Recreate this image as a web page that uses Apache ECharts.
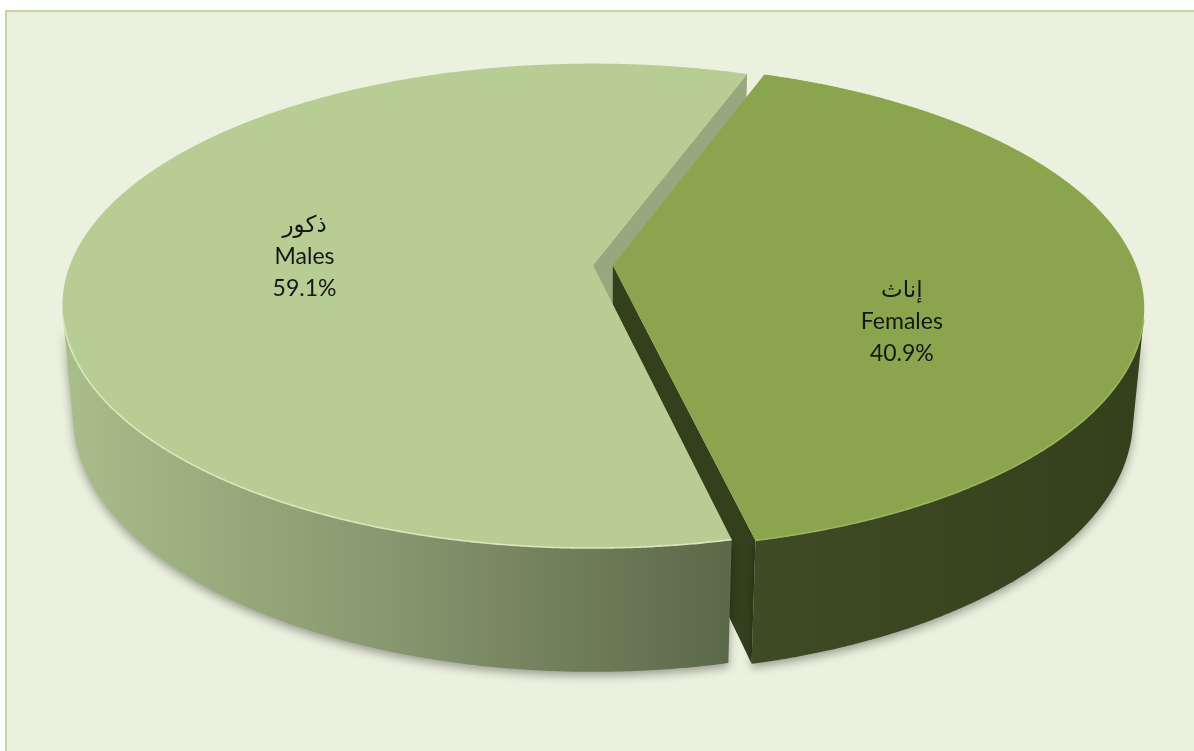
<!DOCTYPE html>
<html>
<head>
<meta charset="utf-8">
<script src="https://cdn.jsdelivr.net/npm/echarts@6/dist/echarts.min.js"></script>
<style>
  html, body { margin: 0; padding: 0; background: #ffffff; }
  #chart { width: 1194px; height: 751px; }
</style>
</head>
<body>
<div id="chart"></div>
<script>
// ---- data ----
const categoriesAr = ['ذكور', 'إناث'];
const categoriesEn = ['Males', 'Females'];
const values = [59.1, 40.9];
const percentLabels = ['59.1%', '40.9%'];

// ---- styles / layout ----
const topColors = ['#B8CD94', '#8BA54E'];
const radialColors = ['#97A87E', '#33401C'];
const wallStops = [['#A9BE8A', '#86966E', '#5B6849'], ['#3F4B24', '#3A4620', '#34401C']];
const rimColors = ['#D8E8BD', '#9CB55E'];
const explode = [0, 0.038];
const labelOffsets = [[-3, 0], [0, 48]];
const START = 167.2;      // degrees clockwise from 12 o'clock
const CX = 593, CY = 265; // screen position of pie centre (top face)
const SCALE = 523, TILT_S = 0.45, DIST = 5.3, THICK = 0.238;
const TILT_C = Math.sqrt(1 - TILT_S * TILT_S);

const total = values.reduce((a, b) => a + b, 0);
const rad = d => d * Math.PI / 180;

function proj(u, w, z) {
  const X = u, Y = w * TILT_S + z * TILT_C, Z = DIST + w * TILT_C - z * TILT_S;
  return [CX + SCALE * DIST * X / Z, CY - SCALE * DIST * Y / Z];
}

const camW = -DIST * TILT_C;

function renderItem(params, api) {
  const i = params.dataIndex;
  let cum = 0;
  for (let k = 0; k < i; k++) cum += values[k];
  const a0 = START + cum / total * 360;
  const a1 = a0 + api.value(0) / total * 360;
  const mid = (a0 + a1) / 2;
  const ou = explode[i] * Math.sin(rad(mid)), ow = explode[i] * Math.cos(rad(mid));
  const P = (a, r, z) => proj(ou + r * Math.sin(rad(a)), ow + r * Math.cos(rad(a)), z);
  const children = [];

  // radial walls
  [[a0, a0 - 90], [a1, a1 + 90]].forEach(([a, na]) => {
    const nu = Math.sin(rad(na)), nw = Math.cos(rad(na));
    const pu = ou + 0.5 * Math.sin(rad(a)), pw = ow + 0.5 * Math.cos(rad(a));
    const dot = nu * (0 - pu) + nw * (camW - pw);
    if (dot > 0) {
      children.push({
        type: 'polygon', z2: 1,
        shape: { points: [P(a, 0, 0), P(a, 1, 0), P(a, 1, -THICK), P(a, 0, -THICK)] },
        style: { fill: radialColors[i] }
      });
    }
  });

  // outer wall (visible parts)
  const step = 0.25;
  const n = Math.ceil((a1 - a0) / step);
  let runs = [], cur = null;
  for (let k = 0; k <= n; k++) {
    const a = Math.min(a0 + k * step, a1);
    const nu = Math.sin(rad(a)), nw = Math.cos(rad(a));
    const dot = nu * (0 - ou - nu) + nw * (camW - ow - nw);
    if (dot > 0) { if (!cur) { cur = []; runs.push(cur); } cur.push(a); }
    else cur = null;
  }
  runs.forEach(run => {
    if (run.length < 2) return;
    const top = run.map(a => P(a, 1, 0));
    const bot = run.slice().reverse().map(a => P(a, 1, -THICK));
    children.push({
      type: 'polygon', z2: 2,
      shape: { points: top.concat(bot) },
      style: {
        fill: { type: 'linear', x: 0, y: 0, x2: 1, y2: 0, colorStops: [
          { offset: 0, color: wallStops[i][0] },
          { offset: 0.5, color: wallStops[i][1] },
          { offset: 1, color: wallStops[i][2] }] },
        shadowBlur: 10, shadowColor: 'rgba(0,0,0,0.35)', shadowOffsetY: 4
      }
    });
    children.push({
      type: 'polyline', z2: 4,
      shape: { points: top },
      style: { stroke: rimColors[i], lineWidth: 1.6, fill: null }
    });
  });

  // top face
  const pts = [P(a0, 0, 0)];
  for (let k = 0; k <= n; k++) pts.push(P(Math.min(a0 + k * step, a1), 1, 0));
  children.push({
    type: 'polygon', z2: 3,
    shape: { points: pts },
    style: { fill: topColors[i] }
  });

  // label
  const lp = P(mid, 0.55, 0);
  children.push({
    type: 'text', z2: 5,
    x: lp[0] + labelOffsets[i][0], y: lp[1] + labelOffsets[i][1],
    style: {
      text: categoriesAr[i] + '\n' + categoriesEn[i] + '\n' + percentLabels[i],
      fill: '#161616', fontSize: 23, lineHeight: 32,
      fontFamily: 'Lato, "DejaVu Sans", sans-serif',
      align: 'center', verticalAlign: 'middle'
    }
  });

  return { type: 'group', children };
}

const chart = echarts.init(document.getElementById('chart'));
chart.setOption({
  backgroundColor: '#ffffff',
  animation: false,
  graphic: [{
    type: 'rect', z: -10,
    shape: { x: 6, y: 11, width: 1220, height: 780 },
    style: { fill: '#EBF1DE', stroke: '#C4D79B', lineWidth: 2 }
  }],
  series: [{
    type: 'custom',
    coordinateSystem: 'none',
    renderItem: renderItem,
    data: values.map((v, i) => ({ name: categoriesEn[i], value: v }))
  }]
});
</script>
</body>
</html>
